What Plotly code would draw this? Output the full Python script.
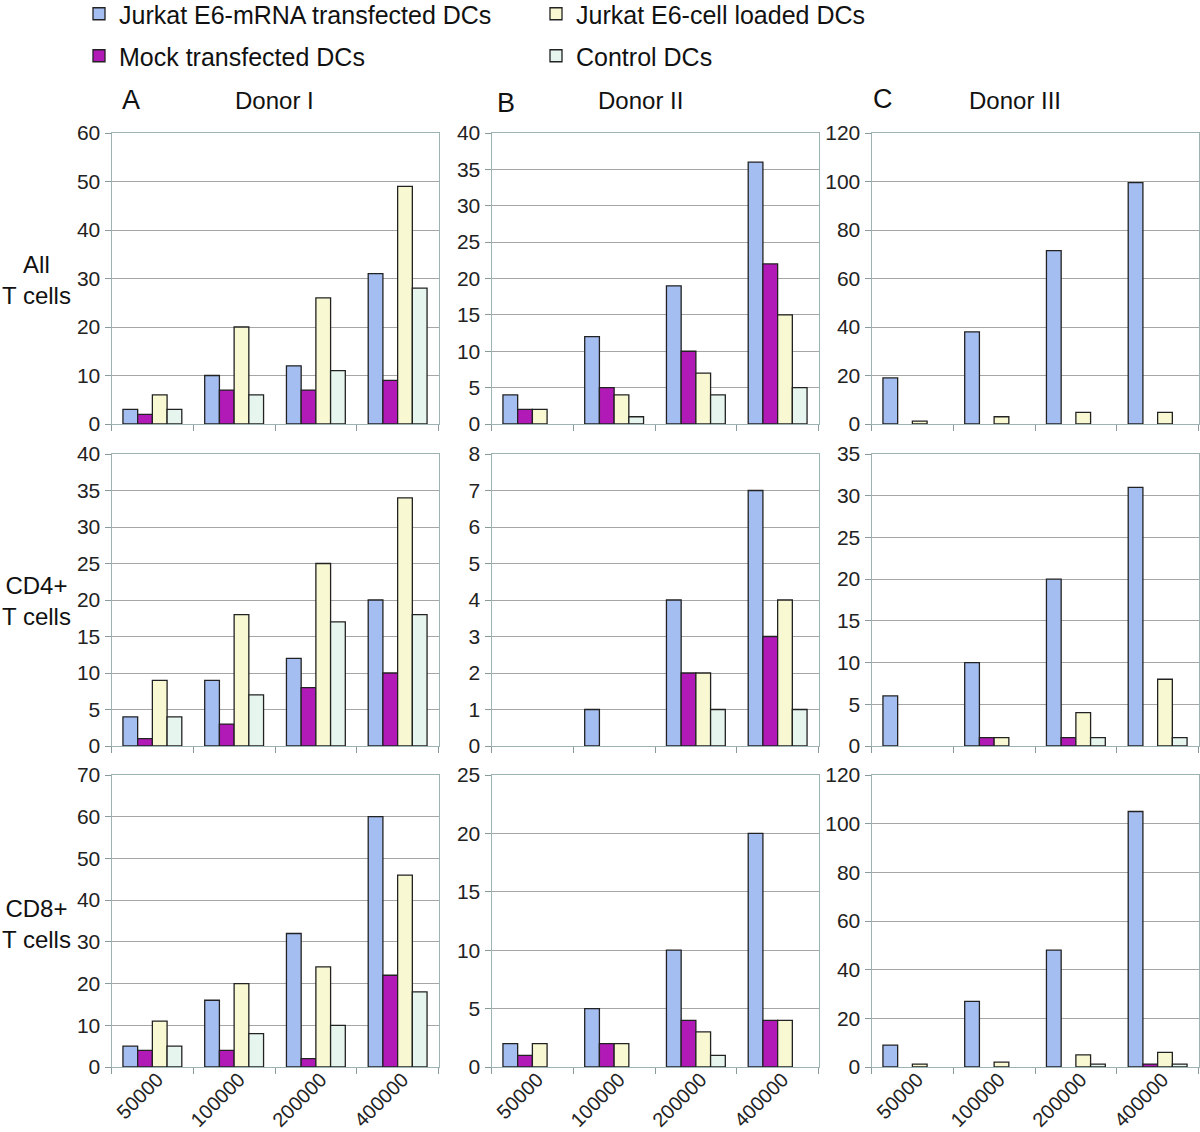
import plotly.graph_objects as go

W, H = 1200, 1132

categories = ["50000", "100000", "200000", "400000"]
series_names = ["Jurkat E6-mRNA transfected DCs", "Mock transfected DCs",
                "Jurkat E6-cell loaded DCs", "Control DCs"]
colors = ["#A5BEF2", "#B21AB8", "#F8F8D2", "#E6F6EE"]

# Row 1: All T cells
allT_donor1_mrna = [3, 10, 12, 31]
allT_donor1_mock = [2, 7, 7, 9]
allT_donor1_cell = [6, 20, 26, 49]
allT_donor1_ctrl = [3, 6, 11, 28]
allT_donor2_mrna = [4, 12, 19, 36]
allT_donor2_mock = [2, 5, 10, 22]
allT_donor2_cell = [2, 4, 7, 15]
allT_donor2_ctrl = [0, 1, 4, 5]
allT_donor3_mrna = [19, 38, 71.5, 99.5]
allT_donor3_mock = [0, 0, 0, 0]
allT_donor3_cell = [1.2, 3, 4.8, 4.8]
allT_donor3_ctrl = [0, 0, 0, 0]

# Row 2: CD4+ T cells
cd4_donor1_mrna = [4, 9, 12, 20]
cd4_donor1_mock = [1, 3, 8, 10]
cd4_donor1_cell = [9, 18, 25, 34]
cd4_donor1_ctrl = [4, 7, 17, 18]
cd4_donor2_mrna = [0, 1, 4, 7]
cd4_donor2_mock = [0, 0, 2, 3]
cd4_donor2_cell = [0, 0, 2, 4]
cd4_donor2_ctrl = [0, 0, 1, 1]
cd4_donor3_mrna = [6, 10, 20, 31]
cd4_donor3_mock = [0, 1, 1, 0]
cd4_donor3_cell = [0, 1, 4, 8]
cd4_donor3_ctrl = [0, 0, 1, 1]

# Row 3: CD8+ T cells
cd8_donor1_mrna = [5, 16, 32, 60]
cd8_donor1_mock = [4, 4, 2, 22]
cd8_donor1_cell = [11, 20, 24, 46]
cd8_donor1_ctrl = [5, 8, 10, 18]
cd8_donor2_mrna = [2, 5, 10, 20]
cd8_donor2_mock = [1, 2, 4, 4]
cd8_donor2_cell = [2, 2, 3, 4]
cd8_donor2_ctrl = [0, 0, 1, 0]
cd8_donor3_mrna = [9, 27, 48, 105]
cd8_donor3_mock = [0, 0, 0, 1.2]
cd8_donor3_cell = [1.2, 2, 5, 6]
cd8_donor3_ctrl = [0, 0, 1.2, 1.2]

y_max = [[60, 40, 120], [40, 8, 35], [70, 25, 120]]
y_dtick = [[10, 5, 20], [5, 1, 5], [10, 5, 20]]

panels = [
    [[allT_donor1_mrna, allT_donor1_mock, allT_donor1_cell, allT_donor1_ctrl],
     [allT_donor2_mrna, allT_donor2_mock, allT_donor2_cell, allT_donor2_ctrl],
     [allT_donor3_mrna, allT_donor3_mock, allT_donor3_cell, allT_donor3_ctrl]],
    [[cd4_donor1_mrna, cd4_donor1_mock, cd4_donor1_cell, cd4_donor1_ctrl],
     [cd4_donor2_mrna, cd4_donor2_mock, cd4_donor2_cell, cd4_donor2_ctrl],
     [cd4_donor3_mrna, cd4_donor3_mock, cd4_donor3_cell, cd4_donor3_ctrl]],
    [[cd8_donor1_mrna, cd8_donor1_mock, cd8_donor1_cell, cd8_donor1_ctrl],
     [cd8_donor2_mrna, cd8_donor2_mock, cd8_donor2_cell, cd8_donor2_ctrl],
     [cd8_donor3_mrna, cd8_donor3_mock, cd8_donor3_cell, cd8_donor3_ctrl]],
]

row_labels = ["All<br>T cells", "CD4+<br>T cells", "CD8+<br>T cells"]
row_label_y = [280, 601, 924]
col_letters = ["A", "B", "C"]
col_titles = ["Donor I", "Donor II", "Donor III"]

# layout geometry in pixels
col_x = [(111.5, 438.5), (491.5, 818.5), (871.5, 1198.5)]
row_y = [(133, 424), (454, 746), (775, 1067)]

FONT = "Liberation Sans, Arial, sans-serif"
legend_of = ["legend", "legend2", "legend", "legend2"]

fig = go.Figure()
for r in range(3):
    for c in range(3):
        idx = r * 3 + c + 1
        xa = "x" if idx == 1 else f"x{idx}"
        ya = "y" if idx == 1 else f"y{idx}"
        for s in range(4):
            vals = [v if v else None for v in panels[r][c][s]]
            fig.add_trace(go.Bar(
                x=categories, y=vals, name=series_names[s],
                marker=dict(color=colors[s], line=dict(color="#222222", width=1.3)),
                xaxis=xa, yaxis=ya, showlegend=(idx == 1),
                legend=legend_of[s], legendgroup=series_names[s],
            ))
        x0, x1 = col_x[c]
        y0, y1 = row_y[r]
        show_xlabels = (r == 2)
        fig.layout[f"xaxis{'' if idx == 1 else idx}"] = dict(
            domain=[x0 / W, x1 / W], anchor=ya, type="category",
            tickson="boundaries", ticks="outside", ticklen=6, tickcolor="#8a9a9a",
            showline=True, linecolor="#9db3b3", linewidth=1, mirror=True,
            showgrid=False, showticklabels=show_xlabels, tickangle=-45,
            ticklabelstandoff=-8, ticklabelshift=5,
            tickfont=dict(family=FONT, size=20, color="#222222"),
            automargin=False, fixedrange=True,
        )
        fig.layout[f"yaxis{'' if idx == 1 else idx}"] = dict(
            domain=[1 - y1 / H, 1 - y0 / H], anchor=xa,
            range=[0, y_max[r][c]], dtick=y_dtick[r][c], tick0=0,
            ticks="outside", ticklen=6, tickcolor="#8a9a9a",
            showline=True, linecolor="#9db3b3", linewidth=1, mirror=True,
            showgrid=True, gridcolor="#a6a6a6", gridwidth=1,
            zeroline=False,
            tickfont=dict(family=FONT, size=21, color="#222222"),
            automargin=False, fixedrange=True,
        )

annotations = []
for r in range(3):
    annotations.append(dict(
        text=row_labels[r], x=36 / W, y=1 - row_label_y[r] / H, xref="paper", yref="paper",
        showarrow=False, xanchor="center", yanchor="middle", align="center",
        font=dict(family=FONT, size=24, color="#111111")))
letter_pos = [(131, 100), (506, 103), (883, 99)]
title_pos = [(274, 101), (640, 101), (1015, 101)]
for c in range(3):
    annotations.append(dict(
        text=col_letters[c], x=letter_pos[c][0] / W, y=1 - letter_pos[c][1] / H,
        xref="paper", yref="paper", showarrow=False, xanchor="center", yanchor="middle",
        font=dict(family=FONT, size=27, color="#111111")))
    annotations.append(dict(
        text=col_titles[c], x=title_pos[c][0] / W, y=1 - title_pos[c][1] / H,
        xref="paper", yref="paper", showarrow=False, xanchor="center", yanchor="middle",
        font=dict(family=FONT, size=24, color="#111111")))

leg_common = dict(orientation="h", xanchor="left", yanchor="middle", entrywidth=412,
                  xref="container", yref="container",
                  font=dict(family=FONT, size=25, color="#111111"),
                  bgcolor="rgba(0,0,0,0)", traceorder="normal")

fig.update_layout(
    width=W, height=H, margin=dict(l=0, r=0, t=0, b=0, autoexpand=False),
    paper_bgcolor="white", plot_bgcolor="white",
    barmode="group", bargap=0.28, bargroupgap=0,
    annotations=annotations,
    legend=dict(x=79 / W, y=1 - 14 / H, **leg_common),
    legend2=dict(x=79 / W, y=1 - 56 / H, **leg_common),
    font=dict(family=FONT),
)

fig.write_html("out.html", config={"displayModeBar": False},
               post_script="document.body.style.margin='0';document.body.style.overflow='hidden';")
